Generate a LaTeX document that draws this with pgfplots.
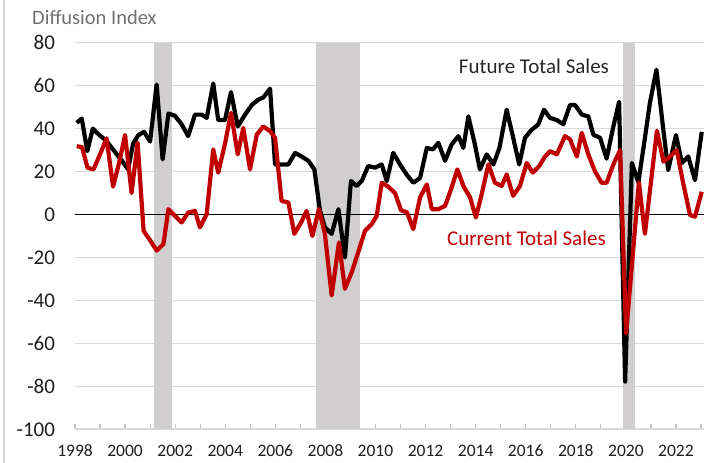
\documentclass[border=0pt]{standalone}
\usepackage{fontspec}
\setmainfont{Carlito}
\usepackage{pgfplots}
\pgfplotsset{compat=1.18}

\definecolor{fedred}{RGB}{192,0,0}
\definecolor{gridgray}{RGB}{217,217,217}
\definecolor{recgray}{RGB}{208,206,206}
\definecolor{txtgray}{RGB}{112,112,112}
\definecolor{lblblack}{RGB}{30,30,30}

\begin{document}
\begin{tikzpicture}
\useasboundingbox (0,0) rectangle (715bp,463bp);
\draw[gridgray, line width=1.2bp] (4bp,0) -- (4bp,463bp);
\node[anchor=west, text=txtgray, inner sep=0,
  font=\fontsize{20.5bp}{24bp}\selectfont] at (32bp,446bp) {Diffusion Index};
\begin{axis}[
  at={(75bp,33.7bp)}, anchor=south west,
  scale only axis, width=629bp, height=386.6bp,
  xmin=1998, xmax=2023.12, ymin=-100, ymax=80,
  clip=false,
  axis x line=bottom, axis y line=left,
  x axis line style={-, draw=gridgray, line width=1.6bp},
  y axis line style={draw=none},
  xtick={1998,2000,...,2022},
  xticklabels={1998,2000,2002,2004,2006,2008,2010,2012,2014,2016,2018,2020,2022},
  minor xtick={1999,2001,...,2023},
  ytick={-100,-80,...,80},
  yticklabels={-100,-80,-60,-40,-20,0,20,40,60,80},
  xtick align=inside,
  major tick length=5bp, minor tick length=5bp,
  x tick style={draw=gridgray!75!gray, line width=1.2bp},
  y tick style={draw=none},
  ymajorgrids, xmajorgrids=false,
  grid style={gridgray, line width=1.6bp},
  /pgf/number format/assume math mode=true,
  xticklabel style={font=\fontsize{17.5bp}{20bp}\selectfont, text=lblblack, yshift=-12bp},
  yticklabel style={font=\fontsize{21bp}{24bp}\selectfont, text=lblblack, xshift=-14bp},
]
% recessions
\addplot[fill=recgray, draw=none] coordinates {(2001.155,-100) (2001.155,80) (2001.86,80) (2001.86,-100)};
\addplot[fill=recgray, draw=none] coordinates {(2007.625,-100) (2007.625,80) (2009.38,80) (2009.38,-100)};
\addplot[fill=recgray, draw=none] coordinates {(2019.90,-100) (2019.90,80) (2020.365,80) (2020.365,-100)};
% zero line
\addplot[black, line width=1.5bp] coordinates {(1998,0) (2023.12,0)};

% Future Total Sales
\addplot[black, line width=4.2bp, line join=round] coordinates {
(1998.07,42.7) (1998.27,44.7) (1998.49,29.5) (1998.71,40) (1998.97,37)
(1999.24,34.5) (1999.47,31) (1999.67,28) (1999.88,25) (2000.12,21)
(2000.32,33) (2000.53,37) (2000.76,38.5) (2001.00,34) (2001.26,60.5)
(2001.50,25.7) (2001.73,47) (2001.99,46) (2002.26,42) (2002.52,36.5)
(2002.79,46.5) (2003.06,46.5) (2003.26,45) (2003.52,61) (2003.72,44)
(2003.99,44) (2004.23,57) (2004.50,41) (2004.79,46.5) (2005.06,51)
(2005.32,53.5) (2005.52,54.5) (2005.79,58.6) (2005.99,23.3) (2006.25,23.3)
(2006.52,23.3) (2006.79,28.7) (2007.05,27) (2007.32,25) (2007.56,21)
(2007.78,2) (2007.98,-6) (2008.25,-9) (2008.52,2.5) (2008.78,-20)
(2009.02,15.6) (2009.25,13.3) (2009.45,15.6) (2009.71,22.6) (2009.98,21.8)
(2010.25,23.3) (2010.45,15.6) (2010.71,28.7) (2010.98,23.3) (2011.25,18.5)
(2011.51,14.8) (2011.78,17) (2012.05,31) (2012.29,30.3) (2012.51,33.4)
(2012.78,25) (2013.04,32.6) (2013.31,36.5) (2013.51,31) (2013.71,45.7)
(2013.97,32.6) (2014.17,21) (2014.44,28) (2014.71,23.3) (2014.95,31)
(2015.24,48.8) (2015.50,35.7) (2015.74,23.3) (2015.97,35.7) (2016.24,39.5)
(2016.50,41.9) (2016.73,48.8) (2016.97,45) (2017.24,44) (2017.50,42)
(2017.77,51) (2017.97,51) (2018.24,46.5) (2018.50,45.7) (2018.70,37.2)
(2018.97,35.7) (2019.23,26) (2019.50,41) (2019.73,52.5) (2019.97,-77.8)
(2020.24,24) (2020.50,15) (2020.74,34) (2020.96,52) (2021.22,67.4)
(2021.48,41) (2021.69,20.7) (2022.00,37) (2022.24,24) (2022.49,27)
(2022.76,16) (2023.03,38.5)
};

% Current Total Sales
\addplot[fedred, line width=4.2bp, line join=round] coordinates {
(1998.07,31.8) (1998.28,31.4) (1998.50,21.8) (1998.74,21) (1999.00,28)
(1999.26,35.5) (1999.52,13) (1999.76,24) (2000.00,37) (2000.26,10)
(2000.50,33.5) (2000.74,-7.6) (2001.00,-12) (2001.26,-16.8) (2001.53,-13.8)
(2001.73,2.5) (2001.99,-0.6) (2002.26,-3.7) (2002.52,0.9) (2002.79,1.7)
(2002.99,-6) (2003.26,0.2) (2003.52,30.3) (2003.72,19.5) (2003.99,33)
(2004.23,47.3) (2004.50,28) (2004.72,40.3) (2004.99,21) (2005.26,37.2)
(2005.52,41) (2005.79,38.8) (2005.99,35.7) (2006.25,6.3) (2006.52,5.6)
(2006.76,-9) (2007.03,-3.7) (2007.25,1.7) (2007.48,-10) (2007.74,2.5)
(2007.98,-9) (2008.25,-37.7) (2008.54,-13) (2008.78,-34.6) (2009.05,-26.9)
(2009.31,-17.6) (2009.58,-7.6) (2009.85,-4.5) (2010.05,-0.6) (2010.25,14.8)
(2010.51,13) (2010.78,10) (2011.02,2) (2011.26,1) (2011.51,-6.8)
(2011.78,7.9) (2012.05,14) (2012.25,2.5) (2012.51,2.5) (2012.78,4)
(2013.04,12.5) (2013.27,21) (2013.51,13.3) (2013.78,7.9) (2014.01,-1.4)
(2014.24,9.4) (2014.51,23.3) (2014.77,14.8) (2015.04,13.3) (2015.24,18.7)
(2015.50,8.7) (2015.77,13.3) (2016.04,24) (2016.28,19.5) (2016.54,22.6)
(2016.77,27) (2016.97,29.5) (2017.24,28) (2017.57,36.5) (2017.77,35)
(2018.04,27) (2018.24,38) (2018.50,28) (2018.77,20) (2019.03,14.8)
(2019.23,14.8) (2019.50,23.3) (2019.77,30) (2020.01,-55.3) (2020.52,15)
(2020.76,-9) (2021.00,15) (2021.24,39) (2021.50,24.6) (2021.76,26.9)
(2022.03,30) (2022.29,14.5) (2022.56,-0.2) (2022.76,-1) (2023.03,10.6)
};

\node[text=black!85, font=\fontsize{21bp}{24bp}\selectfont] at (axis cs:2016.33,69.1) {Future Total Sales};
\node[text=fedred, font=\fontsize{21bp}{24bp}\selectfont] at (axis cs:2016.03,-10.9) {Current Total Sales};
\end{axis}
\end{tikzpicture}
\end{document}
